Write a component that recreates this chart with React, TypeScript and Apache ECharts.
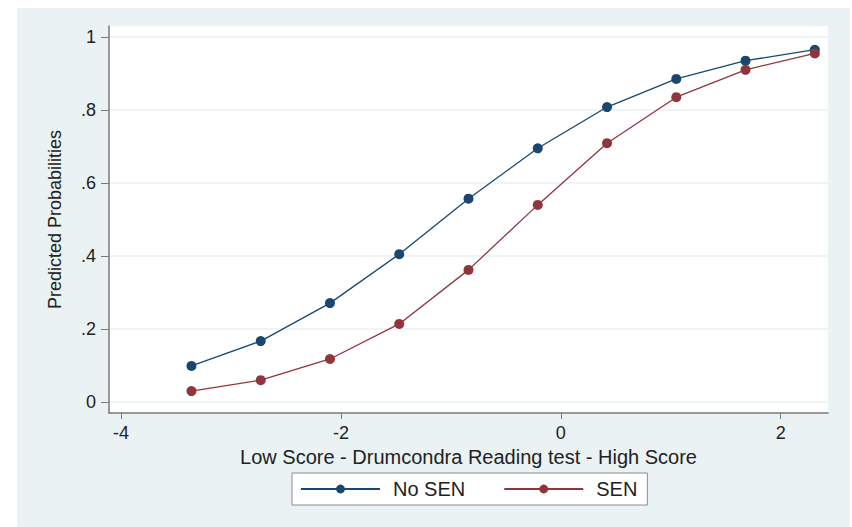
import React, { useEffect, useRef } from "react";
import * as echarts from "echarts";

const xValues = [-3.36, -2.73, -2.10, -1.47, -0.84, -0.21, 0.42, 1.05, 1.68, 2.31];
const noSEN = [0.099, 0.167, 0.271, 0.405, 0.557, 0.695, 0.808, 0.885, 0.935, 0.965];
const sen = [0.030, 0.060, 0.118, 0.214, 0.362, 0.540, 0.709, 0.835, 0.910, 0.955];
const seriesNames = ["No SEN", "SEN"];
const xTicks = [-4, -2, 0, 2];
const yTicks = [0, 0.2, 0.4, 0.6, 0.8, 1];
const yTickLabels = ["0", ".2", ".4", ".6", ".8", "1"];
const xTitle = "Low Score - Drumcondra Reading test - High Score";
const yTitle = "Predicted Probabilities";

const BLUE = "#1a476f";
const RED = "#90353b";
const PANEL = "#eaf2f3";
const FONT = "Liberation Sans, Arial, sans-serif";

export default function App() {
  const ref = useRef<HTMLDivElement>(null);
  useEffect(() => {
    if (!ref.current) return;
    const chart = echarts.init(ref.current, undefined, { renderer: "svg" });
    const mk = (vals: number[]) => xValues.map((x, i) => [x, vals[i]]);
    chart.setOption({
      animation: false,
      backgroundColor: "#ffffff",
      textStyle: { fontFamily: FONT },
      graphic: [
        {
          type: "rect",
          z: -10,
          silent: true,
          shape: { x: 17, y: 8, width: 833, height: 519 },
          style: { fill: PANEL },
        },
      ],
      grid: {
        left: 109,
        right: 24,
        top: 26,
        bottom: 114,
        show: true,
        backgroundColor: "#ffffff",
        borderWidth: 0,
      },
      legend: {
        data: seriesNames,
        left: 292,
        top: 473,
        padding: [6, 10, 6, 8],
        itemWidth: 79,
        itemHeight: 11,
        itemGap: 38,
        backgroundColor: "#ffffff",
        borderColor: "#8c8c8c",
        borderWidth: 1,
        borderRadius: 0,
        textStyle: {
          fontSize: 20,
          color: "#222222",
          fontFamily: FONT,
          padding: [0, 0, 0, 8],
        },
      },
      xAxis: {
        type: "value",
        min: -4.11,
        max: 2.43,
        name: xTitle,
        nameLocation: "middle",
        nameGap: 24,
        nameTextStyle: { fontSize: 20, color: "#222222", fontFamily: FONT },
        axisLine: { show: true, onZero: false, lineStyle: { color: "#7a7a7a", width: 1.5 } },
        axisTick: { show: true, length: 6, customValues: xTicks, lineStyle: { color: "#7a7a7a" } },
        axisLabel: { customValues: xTicks, fontSize: 18, color: "#222222", margin: 11, fontFamily: FONT },
        splitLine: { show: false },
      },
      yAxis: {
        type: "value",
        min: -0.03,
        max: 1.03,
        name: yTitle,
        nameLocation: "middle",
        nameGap: 45,
        nameTextStyle: { fontSize: 18, color: "#222222", fontFamily: FONT },
        axisLine: { show: true, onZero: false, lineStyle: { color: "#7a7a7a", width: 1.5 } },
        axisTick: { show: true, length: 8, customValues: yTicks, lineStyle: { color: "#7a7a7a" } },
        axisLabel: {
          customValues: yTicks,
          fontSize: 18,
          color: "#222222",
          margin: 13,
          fontFamily: FONT,
          formatter: (v: number) => {
            const i = yTicks.findIndex((t) => Math.abs(t - v) < 1e-9);
            return i >= 0 ? yTickLabels[i] : "";
          },
        },
        splitLine: { show: true, lineStyle: { color: PANEL, width: 1.5 } },
      },
      series: [
        {
          name: seriesNames[0],
          type: "line",
          data: mk(noSEN),
          symbol: "circle",
          symbolSize: 10,
          itemStyle: { color: BLUE },
          lineStyle: { color: BLUE, width: 1.3 },
        },
        {
          name: seriesNames[1],
          type: "line",
          data: mk(sen),
          symbol: "circle",
          symbolSize: 10,
          itemStyle: { color: RED },
          lineStyle: { color: RED, width: 1.3 },
        },
      ],
    });
    return () => chart.dispose();
  }, []);
  return (
    <div
      ref={ref}
      style={{ position: "fixed", left: 0, top: 0, width: 852, height: 527 }}
    />
  );
}
